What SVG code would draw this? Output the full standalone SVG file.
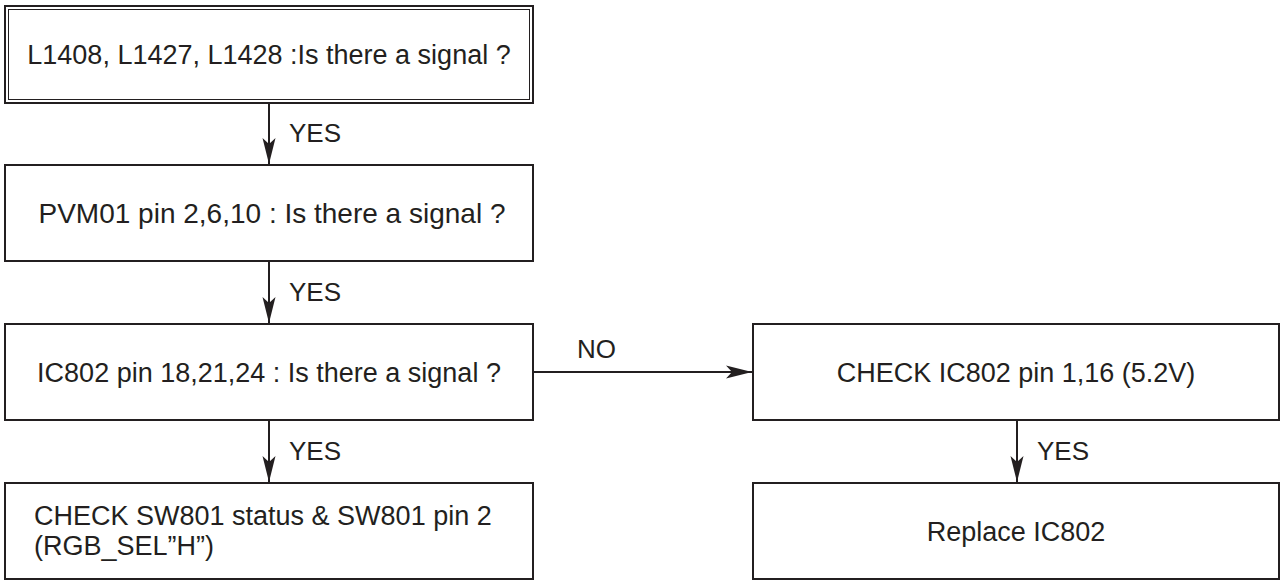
<svg xmlns="http://www.w3.org/2000/svg" width="1280" height="582" viewBox="0 0 1280 582">
<style>
.box{fill:#fff;stroke:#231f20;stroke-width:2}
.inner{fill:none;stroke:#231f20;stroke-width:1}
.t{font-family:"Liberation Sans",Arial,sans-serif;font-size:27px;fill:#231f20}
.c{text-anchor:middle}
.lbl{font-family:"Liberation Sans",Arial,sans-serif;font-size:26px;fill:#231f20}
.ln{stroke:#231f20;stroke-width:2;fill:none}
</style>
<defs>
<marker id="ah" markerUnits="userSpaceOnUse" markerWidth="28" markerHeight="16" viewBox="-27 -8 28 16" refX="0" refY="0" orient="auto">
<path d="M0,0 L-26,-6.5 L-20,0 L-26,6.5 Z" fill="#231f20"/>
</marker>
</defs>
<rect width="1280" height="582" fill="#fff"/>
<g id="connectors">
<line class="ln" x1="269" y1="103" x2="269" y2="164" marker-end="url(#ah)"/>
<text class="lbl" x="289" y="142">YES</text>
<line class="ln" x1="269" y1="261" x2="269" y2="323" marker-end="url(#ah)"/>
<text class="lbl" x="289" y="301">YES</text>
<line class="ln" x1="269" y1="420" x2="269" y2="482" marker-end="url(#ah)"/>
<text class="lbl" x="289" y="460">YES</text>
<line class="ln" x1="533" y1="372" x2="752" y2="372" marker-end="url(#ah)"/>
<text class="lbl" x="577" y="358">NO</text>
<line class="ln" x1="1017" y1="420" x2="1017" y2="482" marker-end="url(#ah)"/>
<text class="lbl" x="1037" y="460">YES</text>
</g>
<g id="n1">
<rect class="box" x="5" y="6" width="528" height="97"/>
<rect class="inner" x="8.5" y="9.5" width="521" height="90"/>
<text class="t c" x="269" y="64">L1408, L1427, L1428 :Is there a signal ?</text>
</g>
<g id="n2">
<rect class="box" x="5" y="165" width="528" height="96"/>
<text class="t c" x="272" y="223" style="font-size:28px">PVM01 pin 2,6,10 : Is there a signal ?</text>
</g>
<g id="n3">
<rect class="box" x="5" y="324" width="528" height="96"/>
<text class="t c" x="269" y="382">IC802 pin 18,21,24 : Is there a signal ?</text>
</g>
<g id="n4">
<rect class="box" x="5" y="483" width="528" height="96"/>
<text class="t" x="34" y="525">CHECK SW801 status &amp; SW801 pin 2</text>
<text class="t" x="34" y="555">(RGB_SEL”H”)</text>
</g>
<g id="n5">
<rect class="box" x="753" y="324" width="526" height="96"/>
<text class="t c" x="1016" y="382">CHECK IC802 pin 1,16 (5.2V)</text>
</g>
<g id="n6">
<rect class="box" x="753" y="483" width="526" height="96"/>
<text class="t c" x="1016" y="541">Replace IC802</text>
</g>
</svg>
